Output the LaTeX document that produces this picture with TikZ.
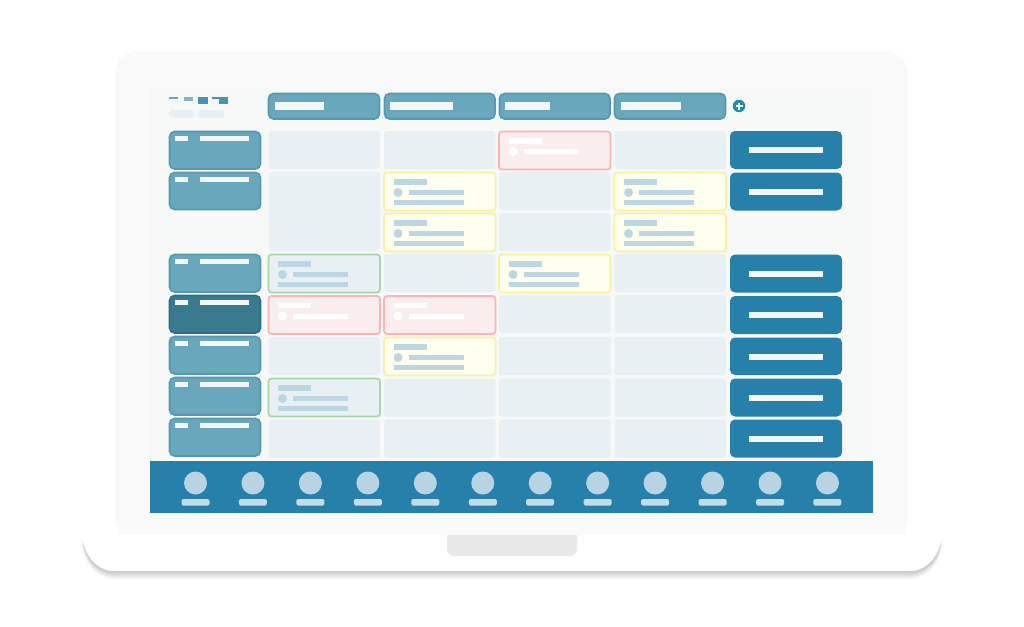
\documentclass[tikz,border=0pt]{standalone}
\usetikzlibrary{calc}
\definecolor{lidc}{HTML}{FAFAFA}
\definecolor{screenc}{HTML}{F7F9F9}
\definecolor{sidef}{HTML}{69A8BC}
\definecolor{sided}{HTML}{5797AF}
\definecolor{darkf}{HTML}{3A7A8F}
\definecolor{darkd}{HTML}{2F6F86}
\definecolor{bluef}{HTML}{2780A9}
\definecolor{cellc}{HTML}{E8F0F3}
\definecolor{yelf}{HTML}{FFFFF0}
\definecolor{yeld}{HTML}{FBEFA0}
\definecolor{redf}{HTML}{FAEDEE}
\definecolor{redd}{HTML}{FBB3B3}
\definecolor{gred}{HTML}{A9D6A6}
\definecolor{barc}{HTML}{BDD7E2}
\definecolor{avac}{HTML}{B8D4E4}
\definecolor{namec}{HTML}{C4DCE8}
\definecolor{plusc}{HTML}{1E8FA5}
\definecolor{notchc}{HTML}{E8E8E8}
\definecolor{whitish}{HTML}{F2F7F9}
\tikzset{
  x=1pt,y=-1pt,
  boxy/.style={rectangle,inner sep=0pt,outer sep=0pt,rounded corners=5pt,anchor=north west},
  emptycell/.style={boxy,fill=cellc,rounded corners=3pt},
  sidecard/.style={boxy,fill=sidef,draw=sided,line width=1.6pt},
  darkcard/.style={boxy,fill=darkf,draw=darkd,line width=1.6pt},
  bluecard/.style={boxy,fill=bluef},
  yellowcard/.style={boxy,fill=yelf,draw=yeld,line width=1.7pt,rounded corners=3pt},
  redcard/.style={boxy,fill=redf,draw=redd,line width=1.7pt,rounded corners=3pt},
  greencard/.style={boxy,fill=cellc,draw=gred,line width=1.7pt,rounded corners=3pt},
}
% name, x1, y1, x2, y2, style
\newcommand{\bx}[6]{%
  \pgfmathsetmacro{\bw}{#4-#2}\pgfmathsetmacro{\bh}{#5-#3}%
  \node[#6,minimum width=\bw pt,minimum height=\bh pt] (#1) at (#2,#3) {};}
% bars inside a card at x, y
\newcommand{\cardbars}[3]{%
  \fill[#3] (#1+9.5,#2+6.5) rectangle (#1+42.5,#2+12);
  \fill[#3] (#1+14,#2+20) circle (4.5);
  \fill[#3] (#1+24.5,#2+17.5) rectangle (#1+79.5,#2+22.5);}
\newcommand{\lowbar}[2]{\fill[barc] (#1+9.5,#2+27.5) rectangle (#1+79.5,#2+32.5);}
\newcommand{\ycard}[4]{\bx{#1}{#2}{#3}{#2+111.5}{#3+#4}{yellowcard}\cardbars{#2}{#3}{barc}\lowbar{#2}{#3}}
\newcommand{\gcard}[4]{\bx{#1}{#2}{#3}{#2+111.5}{#3+#4}{greencard}\cardbars{#2}{#3}{barc}\lowbar{#2}{#3}}
\newcommand{\rcard}[4]{\bx{#1}{#2}{#3}{#2+111.5}{#3+#4}{redcard}\cardbars{#2}{#3}{white}}
\newcommand{\ecell}[4]{\bx{#1}{#2}{#3}{#2+111.5}{#3+#4}{emptycell}}
\begin{document}
\begin{tikzpicture}
\useasboundingbox (0,0) rectangle (1024,626);
\fill[white] (0,0) rectangle (1024,626);
% lid shadow
\foreach \d in {3,2,1}
  \fill[black,opacity=.012,rounded corners=22pt] (118-\d,54-\d) rectangle (905+\d,540);
% lid
\fill[lidc,rounded corners=20pt] (118,54) -- (905,54) -- (905,560) -- (118,560) -- cycle;
% screen
\fill[screenc] (150,88) rectangle (873,460);
% base shadow
\foreach \d in {8,7,6,5,4,3,2,1}
  \fill[black,opacity=.026] (82.5,535+\d) .. controls (82.5,553+\d) and (96,571+\d) .. (114,571+\d) -- (910,571+\d) .. controls (928,571+\d) and (941.5,553+\d) .. (941.5,535+\d) -- cycle;
% base
\fill[white] (82.5,535) .. controls (82.5,553) and (96,571) .. (114,571) -- (910,571) .. controls (928,571) and (941.5,553) .. (941.5,535) -- cycle;
% notch
\fill[notchc,rounded corners=7pt] (447,530) rectangle (577,556);
\fill[lidc] (118,530) rectangle (905,535);
% tiny toolbar
\fill[sidef] (169,97) rectangle (178,99);
\fill[sidef!85] (184,97) rectangle (193,101);
\fill[bluef!85] (198,97) rectangle (208,103.5);
\fill[bluef!85] (212,97) rectangle (219,98.5);
\fill[bluef!85] (219,97) rectangle (228,103.5);
\bx{pillA}{169}{110}{194}{118}{emptycell}
\bx{pillB}{198}{110}{224}{118}{emptycell}
% header
\bx{hA}{268.5}{93.5}{379.5}{119}{sidecard}
\bx{hB}{384.5}{93.5}{495}{119}{sidecard}
\bx{hC}{499.5}{93.5}{610}{119}{sidecard}
\bx{hD}{614.5}{93.5}{725.5}{119}{sidecard}
\fill[whitish] (275,102) rectangle (324,110);
\fill[whitish] (390,102) rectangle (453,110);
\fill[whitish] (505,102) rectangle (550,110);
\fill[whitish] (621,102) rectangle (681,110);
% plus
\node[circle,fill=plusc,minimum size=12.5pt,inner sep=0pt] (plus) at (739,106) {};
\fill[white] (735.5,105) rectangle (742.5,107);
\fill[white] (738,102.5) rectangle (740,109.5);
% left column
\foreach \n/\ya/\yb/\st in {a/131.5/169/sidecard,b/172.5/209.5/sidecard,c/254.5/292/sidecard,d/295.5/333/darkcard,e/336.5/374/sidecard,f/377.5/415/sidecard,g/418.5/456/sidecard}{
  \bx{side\n}{169.5}{\ya}{260.5}{\yb}{\st}
  \fill[whitish] (175,\ya+4.5) rectangle (188,\ya+9.5);
  \fill[whitish] (200,\ya+4.5) rectangle (249,\ya+9.5);
}
% right column
\foreach \n/\ya/\yb in {a/131/169,b/172.5/210.5,c/254.5/292.5,d/296/334,e/337.5/375,f/378.5/416.5,g/419.5/457.5}{
  \bx{right\n}{730}{\ya}{842}{\yb}{bluecard}
  \fill[whitish] (749,\ya+16) rectangle (823,\ya+22);
}
% column 1
\ecell{aA}{268.5}{131}{38}
\bx{aB}{268.5}{172}{380}{251}{emptycell}
\gcard{aC}{268.5}{254.5}{38}
\rcard{aD}{268.5}{296}{38}
\ecell{aE}{268.5}{337}{38}
\gcard{aF}{268.5}{378.5}{38}
\ecell{aG}{268.5}{419.5}{38}
% column 2
\ecell{bA}{384}{131}{38}
\ycard{bB}{384}{172.5}{38}
\ycard{bC}{384}{213.5}{38}
\ecell{bD}{384}{254}{38}
\rcard{bE}{384}{296}{38}
\ycard{bF}{384}{337.5}{38}
\ecell{bG}{384}{378.5}{38}
\ecell{bH}{384}{419.5}{38}
% column 3
\rcard{cA}{499}{131.5}{38}
\ecell{cB}{499}{172}{38}
\ecell{cC}{499}{213}{38}
\ycard{cD}{499}{254.5}{38}
\ecell{cE}{499}{295}{38}
\ecell{cF}{499}{337}{38}
\ecell{cG}{499}{378.5}{38}
\ecell{cH}{499}{419.5}{38}
% column 4
\ecell{dA}{614.5}{131}{38}
\ycard{dB}{614.5}{172.5}{38}
\ycard{dC}{614.5}{213.5}{38}
\ecell{dD}{614.5}{254}{38}
\ecell{dE}{614.5}{295}{38}
\ecell{dF}{614.5}{337}{38}
\ecell{dG}{614.5}{378.5}{38}
\ecell{dH}{614.5}{419.5}{38}
% dock
\fill[bluef] (150,460.5) rectangle (873,513);
\foreach \i in {0,...,11}{
  \pgfmathsetmacro{\cx}{195.5+57.45*\i}
  \node[circle,fill=avac,minimum size=23pt,inner sep=0pt] (av\i) at (\cx,483) {};
  \fill[namec,rounded corners=1.5pt] (\cx-14,499) rectangle (\cx+14,505.5);
}
\end{tikzpicture}
\end{document}
